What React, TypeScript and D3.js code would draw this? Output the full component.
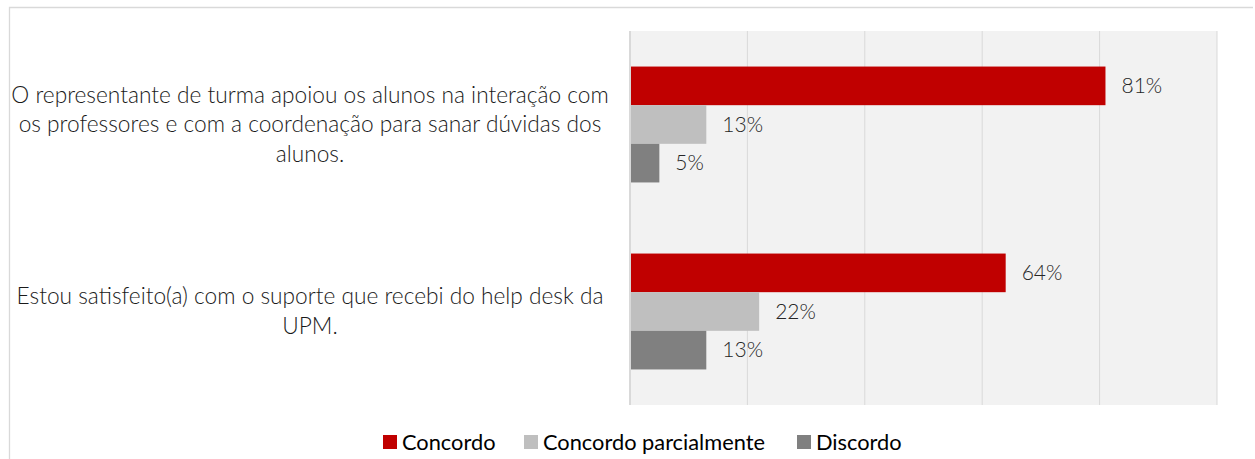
import React, { useEffect, useRef } from 'react';
import * as d3 from 'd3';

// categories, one array of lines per label (top to bottom)
const categories = [
  ['O representante de turma apoiou os alunos na interação com', 'os professores e com a coordenação para sanar dúvidas dos', 'alunos.'],
  ['Estou satisfeito(a) com o suporte que recebi do help desk da', 'UPM.'],
];
const seriesNames = ['Concordo', 'Concordo parcialmente', 'Discordo'];
const seriesColors = ['#C00000', '#BFBFBF', '#808080'];
const concordo = [0.81, 0.64];
const concordoParcial = [0.13, 0.22];
const discordo = [0.05, 0.13];
const gridTicks = [0, 0.2, 0.4, 0.6, 0.8, 1];

const App = () => {
  const ref = useRef<SVGSVGElement>(null);

  useEffect(() => {
    const svg = d3.select(ref.current);
    svg.selectAll('*').remove();

    const height = 459;
    const plot = { left: 630, right: 1217, top: 31, bottom: 405 };
    const font = 'Lato, sans-serif';
    const labelX = 310;

    // chart border (top + left only visible)
    svg.append('path')
      .attr('d', `M9.5,${height} V7.5 H1253`)
      .attr('fill', 'none')
      .attr('stroke', '#d9d9d9')
      .attr('stroke-width', 1.3);

    const x = d3.scaleLinear().domain([0, 1]).range([plot.left, plot.right]);
    const y = d3.scaleBand<number>()
      .domain(d3.range(categories.length))
      .range([plot.top, plot.bottom])
      .padding(0);
    const ySub = d3.scaleBand<number>()
      .domain(d3.range(seriesNames.length))
      .range([0, y.bandwidth()])
      .paddingInner(0)
      .paddingOuter(0.92);

    // plot background
    svg.append('rect')
      .attr('x', plot.left)
      .attr('y', plot.top)
      .attr('width', plot.right - plot.left)
      .attr('height', plot.bottom - plot.top)
      .attr('fill', '#F2F2F2');

    // gridlines
    svg.append('g').selectAll('line')
      .data(gridTicks).enter()
      .append('line')
      .attr('x1', d => x(d))
      .attr('x2', d => x(d))
      .attr('y1', plot.top)
      .attr('y2', plot.bottom)
      .attr('stroke', '#D9D9D9')
      .attr('stroke-width', d => d === 0 ? 2 : 1);

    const values = [concordo, concordoParcial, discordo];
    const rows = categories.flatMap((_, ci) =>
      values.map((s, si) => ({ ci, si, v: s[ci] })));

    // bars
    svg.append('g').selectAll('rect')
      .data(rows).enter()
      .append('rect')
      .attr('x', x(0) + 1)
      .attr('y', d => (y(d.ci) as number) + (ySub(d.si) as number))
      .attr('width', d => x(d.v) - x(0) - 1)
      .attr('height', ySub.bandwidth())
      .attr('fill', d => seriesColors[d.si]);

    // value labels
    svg.append('g').selectAll('text')
      .data(rows).enter()
      .append('text')
      .attr('x', d => x(d.v) + 16)
      .attr('y', d => (y(d.ci) as number) + (ySub(d.si) as number) + ySub.bandwidth() / 2)
      .attr('dy', '0.35em')
      .attr('font-family', font)
      .attr('font-weight', 300)
      .attr('font-size', 21)
      .attr('fill', '#262626')
      .text(d => d3.format('.0%')(d.v));

    // category labels
    const lineH = 29.5;
    const labels = svg.append('g').selectAll('text')
      .data(categories).enter()
      .append('text')
      .attr('x', labelX)
      .attr('y', (_, i) => (y(i) as number) + y.bandwidth() / 2)
      .attr('text-anchor', 'middle')
      .attr('font-family', font)
      .attr('font-weight', 300)
      .attr('font-size', 22.7)
      .attr('fill', '#1a1a1a');
    labels.each(function (lines) {
      const t = d3.select(this);
      const start = -((lines.length - 1) / 2) * lineH;
      lines.forEach((line, li) => {
        t.append('tspan')
          .attr('x', labelX)
          .attr('dy', li === 0 ? start + 7.5 : lineH)
          .text(line);
      });
    });

    // legend
    const legendX = [383, 524, 797];
    const legend = svg.append('g').selectAll('g')
      .data(seriesNames).enter()
      .append('g')
      .attr('transform', (_, i) => `translate(${legendX[i]}, 442)`);
    legend.append('rect')
      .attr('x', 0)
      .attr('y', -7)
      .attr('width', 14)
      .attr('height', 14)
      .attr('fill', (_, i) => seriesColors[i]);
    legend.append('text')
      .attr('x', 19)
      .attr('dy', '0.35em')
      .attr('font-family', font)
      .attr('font-size', 21.8)
      .attr('fill', '#000')
      .text(d => d);
  }, []);

  return (
    <svg ref={ref} width={1255} height={459}
      style={{ position: 'absolute', left: 0, top: 0, background: '#fff' }} />
  );
};

export default App;
